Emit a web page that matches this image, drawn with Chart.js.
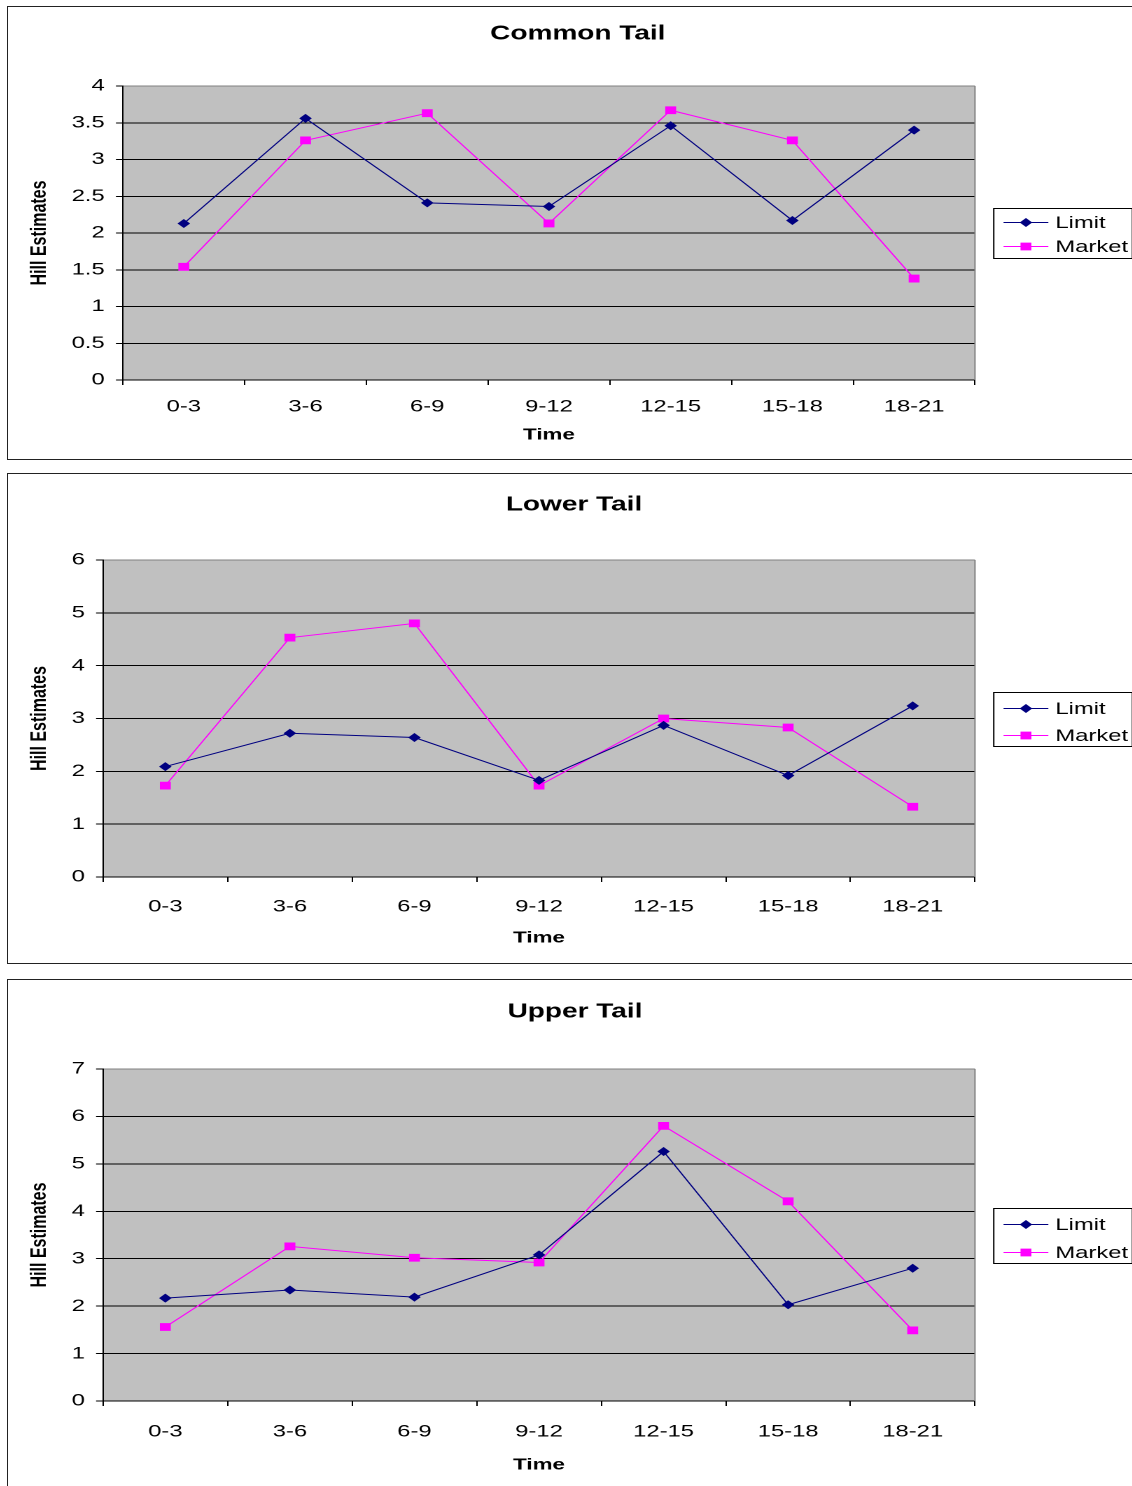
<!DOCTYPE html>
<html>
<head>
<meta charset="utf-8">
<script src="https://cdn.jsdelivr.net/npm/chart.js@4.4.1/dist/chart.umd.min.js"></script>
<style>
  html, body { margin: 0; padding: 0; background: #fff; }
  body { width: 1132px; height: 1486px; overflow: hidden; position: relative; }
  .box { position: absolute; left: 7px; width: 1200px; border: 1px solid #222; box-sizing: border-box; }
  .wrap { position: absolute; left: 8px; transform: scaleX(1.4); transform-origin: 0 0; }
</style>
</head>
<body>
<div class="box" style="top:6px;height:454px"></div>
<div class="box" style="top:473px;height:491px"></div>
<div class="box" style="top:979px;height:530px"></div>

<div class="wrap" style="top:6px"><canvas id="commonChart" width="810" height="454"></canvas></div>
<div class="wrap" style="top:473px"><canvas id="lowerChart" width="810" height="490"></canvas></div>
<div class="wrap" style="top:979px"><canvas id="upperChart" width="810" height="507"></canvas></div>

<script>
// ---- DATA ----
const timeLabels = ["0-3", "3-6", "6-9", "9-12", "12-15", "15-18", "18-21"];

const commonLimit = [2.13, 3.56, 2.41, 2.36, 3.46, 2.17, 3.40];
const commonMarket = [1.54, 3.26, 3.63, 2.13, 3.67, 3.26, 1.38];

const lowerLimit = [2.09, 2.72, 2.64, 1.83, 2.87, 1.92, 3.24];
const lowerMarket = [1.73, 4.53, 4.80, 1.73, 3.00, 2.83, 1.33];

const upperLimit = [2.17, 2.34, 2.19, 3.08, 5.26, 2.03, 2.80];
const upperMarket = [1.56, 3.26, 3.02, 2.92, 5.80, 4.21, 1.49];

const FONT = '"Liberation Sans", Arial, sans-serif';
Chart.defaults.font.family = FONT;
Chart.defaults.color = "#000";

// grey plot area, title and boxed legend (Excel look)
const excelFrame = {
  id: "excelFrame",
  beforeDraw(chart) {
    const { ctx, chartArea: a } = chart;
    ctx.save();
    ctx.fillStyle = "#c0c0c0";
    ctx.fillRect(a.left, a.top, a.width, a.height);
    ctx.restore();
  },
  afterDraw(chart, args, opts) {
    const { ctx, chartArea: a } = chart;
    ctx.save();
    ctx.strokeStyle = "#808080";
    ctx.lineWidth = 1;
    ctx.beginPath();
    ctx.moveTo(a.right, a.top);
    ctx.lineTo(a.right, a.bottom);
    ctx.stroke();

    ctx.fillStyle = "#000";
    ctx.font = "bold 20px " + FONT;
    ctx.textAlign = "center";
    ctx.textBaseline = "middle";
    ctx.fillText(opts.title, opts.titleX, opts.titleY);

    const cy = (a.top + a.bottom) / 2;
    const top = Math.round(cy - opts.legendH / 2) + 0.5;
    const left = opts.legendX + 0.5;
    ctx.strokeStyle = "#000";
    ctx.strokeRect(left, top, opts.legendW, opts.legendH);
    ctx.font = "17px " + FONT;
    ctx.textAlign = "left";
    chart.data.datasets.forEach((ds, i) => {
      const y = top + opts.rowTop + i * opts.rowGap;
      ctx.strokeStyle = ds.borderColor;
      ctx.beginPath();
      ctx.moveTo(left + 7, y);
      ctx.lineTo(left + 39, y);
      ctx.stroke();
      ctx.fillStyle = ds.pointBackgroundColor;
      Chart.helpers.drawPoint(ctx, { pointStyle: ds.pointStyle, radius: ds.pointRadius, borderWidth: 0, rotation: 0 }, left + 23, y);
      ctx.fillStyle = "#000";
      ctx.fillText(ds.label, left + 44, y + 1);
    });
    ctx.restore();
  },
};

function makeChart(id, title, limit, market, yMax, yStep, lay) {
  return new Chart(document.getElementById(id), {
    type: "line",
    data: {
      labels: timeLabels,
      datasets: [
        {
          label: "Limit",
          data: limit,
          borderColor: "#000080",
          backgroundColor: "#000080",
          pointBackgroundColor: "#000080",
          pointBorderColor: "#000080",
          pointStyle: "rectRot",
          pointRadius: 4.5,
          pointBorderWidth: 0,
          borderWidth: 1,
          tension: 0,
        },
        {
          label: "Market",
          data: market,
          borderColor: "#ff00ff",
          backgroundColor: "#ff00ff",
          pointBackgroundColor: "#ff00ff",
          pointBorderColor: "#ff00ff",
          pointStyle: "rect",
          pointRadius: 5.5,
          pointBorderWidth: 0,
          borderWidth: 1,
          tension: 0,
        },
      ],
    },
    options: {
      responsive: false,
      animation: false,
      devicePixelRatio: 2,
      layout: { padding: { left: 13, top: lay.top, right: 119.3, bottom: lay.bottom } },
      plugins: {
        legend: { display: false },
        tooltip: { enabled: false },
        excelFrame: {
          title: title,
          titleX: lay.titleX,
          titleY: lay.titleY,
          legendX: 703.6,
          legendW: 99,
          legendH: lay.legendH,
          rowTop: lay.rowTop,
          rowGap: lay.rowGap,
        },
      },
      scales: {
        x: {
          offset: true,
          grid: { offset: true, drawOnChartArea: false, tickLength: 5, color: "#000" },
          border: { color: "#000" },
          ticks: { font: { size: 17 }, padding: lay.xPad, maxRotation: 0, autoSkip: false },
          title: { display: true, text: "Time", font: { size: 16, weight: "bold" }, padding: 0 },
          afterFit(s) { s.height = lay.xH; },
        },
        y: {
          min: 0,
          max: yMax,
          ticks: {
            stepSize: yStep,
            font: { size: 17 },
            padding: 8,
            autoSkip: false,
            callback: (v) => String(+Number(v).toFixed(1)),
          },
          grid: {
            color: (c) => (c.tick && c.tick.value === yMax ? "#808080" : "#000"),
            tickColor: "#000",
            tickLength: 5,
          },
          border: { color: "#000" },
          title: { display: true, text: "Hill Estimates", font: { size: 16, weight: "bold" }, padding: 0 },
          afterFit(s) { s.width = lay.yW; },
        },
      },
    },
    plugins: [excelFrame],
  });
}

makeChart("commonChart", "Common Tail", commonLimit, commonMarket, 4, 0.5, {
  top: 80, bottom: 15.4, xH: 64.6, xPad: 11.8, yW: 69.1,
  titleX: 407, titleY: 28, legendH: 50, rowTop: 14, rowGap: 24,
});

makeChart("lowerChart", "Lower Tail", lowerLimit, lowerMarket, 6, 1, {
  top: 87, bottom: 15.4, xH: 70.6, xPad: 14.8, yW: 54.9,
  titleX: 404.3, titleY: 32, legendH: 54, rowTop: 16, rowGap: 27,
});

makeChart("upperChart", "Upper Tail", upperLimit, upperMarket, 7, 1, {
  top: 90, bottom: 11.4, xH: 73.6, xPad: 15.8, yW: 54.9,
  titleX: 405, titleY: 33, legendH: 55, rowTop: 16, rowGap: 28,
});
</script>
</body>
</html>
